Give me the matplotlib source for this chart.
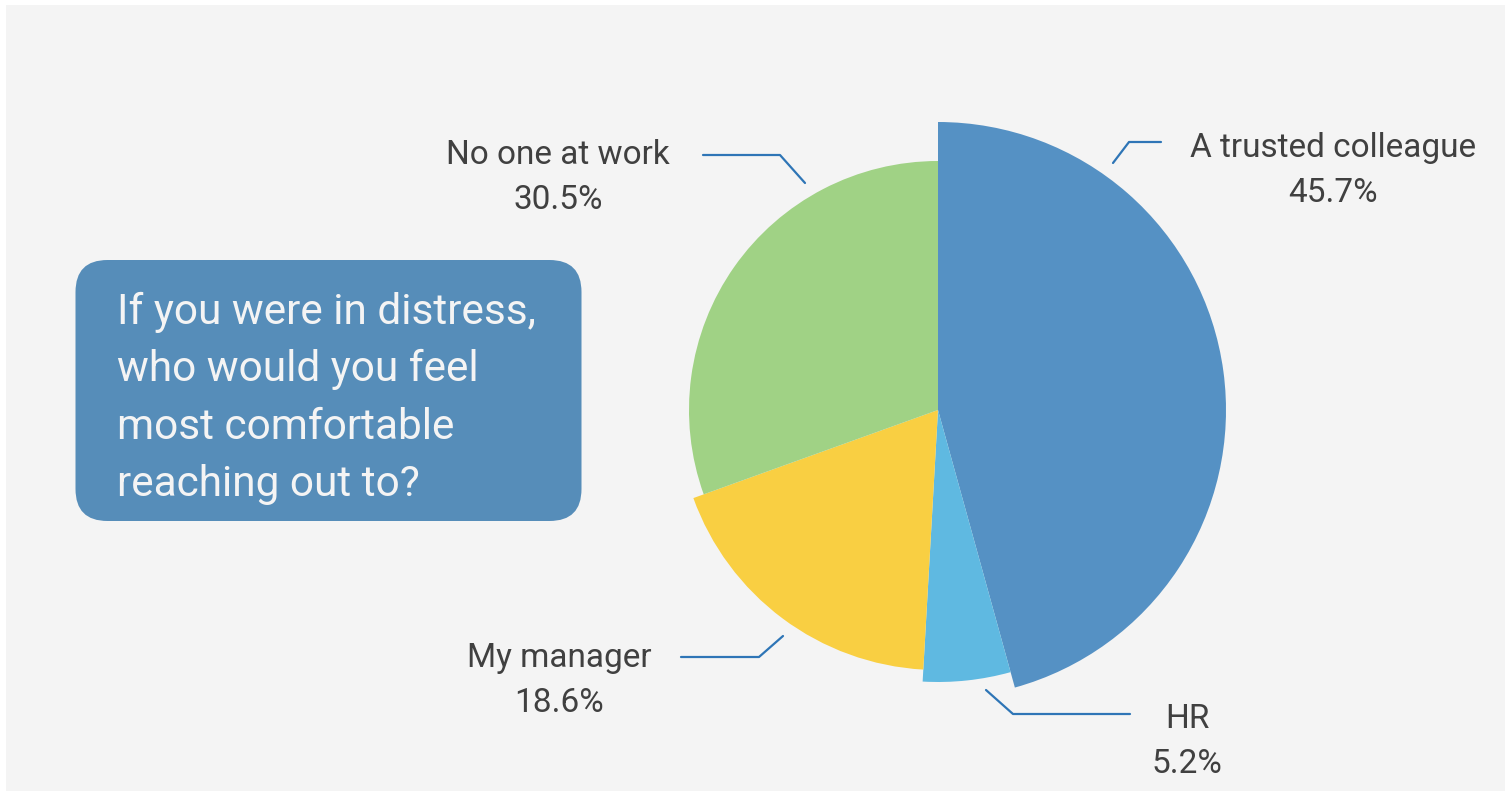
import matplotlib.pyplot as plt
from matplotlib.patches import Rectangle, FancyBboxPatch

# Survey answers (share of respondents, %)
answers = ['A trusted colleague', 'HR', 'My manager', 'No one at work']
shares = [45.7, 5.2, 18.6, 30.5]
colors = ['#5591c4', '#5fb9e1', '#f9cf42', '#a0d285']
question = ['If you were in distress,', 'who would you feel',
            'most comfortable', 'reaching out to?']

# each slice gets its own radius (pixels)
radii = [288, 272, 260, 249]

W, H = 1511, 791
cx, cy = 938, H - 410

# label placement: centre x, baseline of name (pixel rows from top)
label_pos = [(1333, 157), (1187, 728), (559, 667), (558, 164)]
# leader polylines, pixel coords from top-left
leaders = [
    [(1113, 163), (1129, 142), (1161, 142)],
    [(986, 690), (1013, 714), (1130, 714)],
    [(783, 636), (759, 657), (681, 657)],
    [(805, 183), (780, 155), (703, 155)],
]

text_col = '#404040'
line_col = '#2e75b6'

fig = plt.figure(figsize=(W / 100, H / 100), dpi=100, facecolor='white')
ax = fig.add_axes([0, 0, 1, 1])

ax.add_patch(Rectangle((6, 0), 1499, 786, facecolor='#f4f4f4', edgecolor='none', zorder=0))

wedges, _ = ax.pie(shares, colors=colors, startangle=90, counterclock=False,
                   center=(cx, cy), radius=radii[0], wedgeprops=dict(linewidth=0))
for w, r in zip(wedges, radii):
    w.set_radius(r)
    w.set_zorder(2)

for name, val, (lx, ly), pts in zip(answers, shares, label_pos, leaders):
    ax.text(lx, H - ly, name, ha='center', va='baseline', fontsize=24,
            family='Roboto', color=text_col, zorder=3)
    ax.text(lx, H - ly - 45, f'{val:.1f}%', ha='center', va='baseline', fontsize=24,
            family='Roboto', color=text_col, zorder=3)
    xs = [p[0] for p in pts]
    ys = [H - p[1] for p in pts]
    ax.plot(xs, ys, color=line_col, lw=1.6, solid_capstyle='round', zorder=3)

# question box
ax.add_patch(FancyBboxPatch((75.5, H - 521), 506, 261,
                            boxstyle='round,pad=0,rounding_size=32',
                            facecolor='#568db9', edgecolor='none', zorder=2))
for i, line in enumerate(question):
    ax.text(117, H - (324 + 57.3 * i), line, ha='left', va='baseline', fontsize=30.5,
            family='Roboto', color='#f4f4f4', zorder=3)

ax.set_xlim(0, W)
ax.set_ylim(0, H)
ax.set_aspect('equal')
ax.axis('off')

fig.savefig('out.png', dpi=100, facecolor='white')
